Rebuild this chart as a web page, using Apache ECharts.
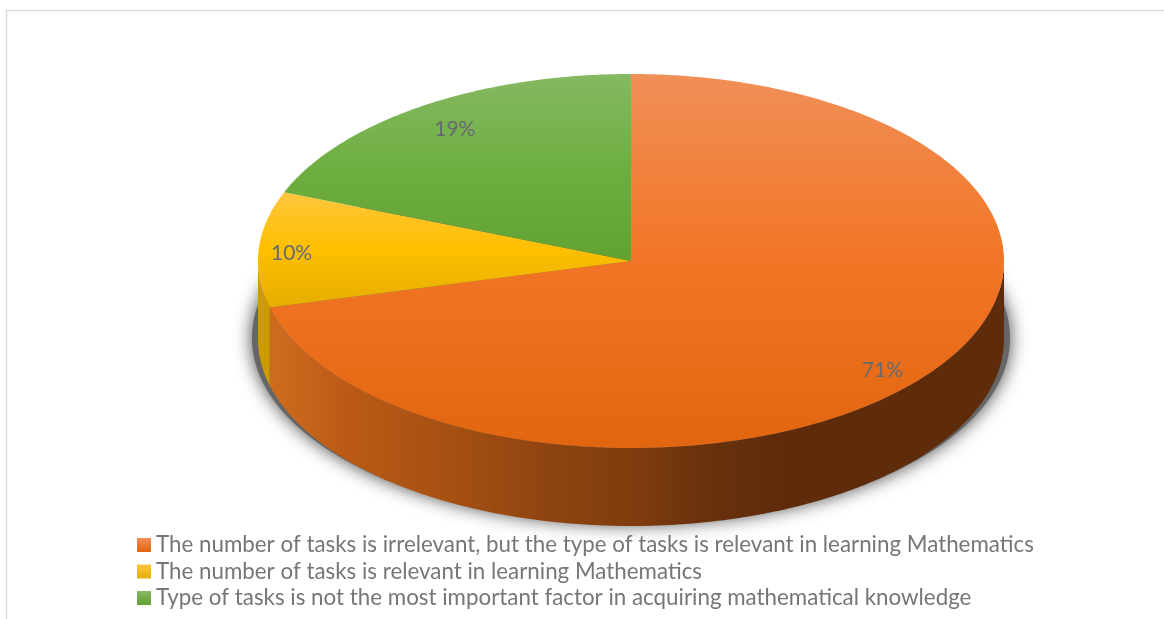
<!DOCTYPE html>
<html>
<head>
<meta charset="utf-8">
<style>html,body{margin:0;padding:0;background:#fff}#main{width:1164px;height:619px}</style>
<script src="https://cdn.jsdelivr.net/npm/echarts@6/dist/echarts.min.js"></script>
</head>
<body>
<div id="main"></div>
<script>
// Survey answers, percent of respondents
const categories = [
  'The number of tasks is irrelevant, but the type of tasks is relevant in learning Mathematics',
  'The number of tasks is relevant in learning Mathematics',
  'Type of tasks is not the most important factor in acquiring mathematical knowledge'
];
const shares = [71, 10, 19];

// Disc geometry in page pixels
const CX = 631, CY = 261, RX = 373, RY = 187, DEPTH = 78;
const TOTAL = shares.reduce((a, b) => a + b, 0);

// Cumulative start angle of each slice, clockwise from 12 o'clock
const startAngles = shares.map((_, i) =>
  shares.slice(0, i).reduce((a, b) => a + b, 0) / TOTAL * 2 * Math.PI);

// Top-surface shades: light rim, base colour, darker near edge
const topShades = [
  ['#F08F58', '#F27627', '#E2650F'],
  ['#FFC540', '#FFC000', '#E5AD00'],
  ['#85B962', '#6FAF42', '#62A231']
];
// Label placement along the radius, with a small pixel nudge for each slice
const labelRadius = [0.85, 0.85, 0.85];
const labelNudge = [[1, 12], [-23, 2], [2, 0]];

const pt = (a, dy) => [CX + RX * Math.sin(a), CY - RY * Math.cos(a) + (dy || 0)];

function arc(a0, a1, dy) {
  const n = Math.max(2, Math.ceil(Math.abs(a1 - a0) / 0.01));
  const out = [];
  for (let i = 0; i <= n; i++) out.push(pt(a0 + (a1 - a0) * i / n, dy));
  return out;
}

function topFill(i) {
  const s = topShades[i];
  return new echarts.graphic.LinearGradient(0, 0, 0, 1, [
    { offset: 0, color: s[0] },
    { offset: 0.48, color: s[1] },
    { offset: 1, color: s[2] }
  ]);
}

const orangeWall = new echarts.graphic.LinearGradient(CX - RX, 0, CX + RX, 0, [
  { offset: 0.03, color: '#CC6A1E' },
  { offset: 0.12, color: '#BB5A16' },
  { offset: 0.26, color: '#A55012' },
  { offset: 0.39, color: '#8E4410' },
  { offset: 0.51, color: '#7F3C0E' },
  { offset: 0.59, color: '#6B320C' },
  { offset: 0.70, color: '#5E2C0B' },
  { offset: 1, color: '#5E2C0B' }
], true);
const wallFills = [orangeWall, '#CB9B00', '#5E8A3A'];

function sliceRenderer(i) {
  return function (params, api) {
    const frac = api.value(0) / TOTAL;
    const a0 = startAngles[i];
    const a1 = a0 + frac * 2 * Math.PI;
    const children = [];

    // Only the front half of the rim faces the viewer
    const w0 = Math.max(a0, Math.PI / 2);
    const w1 = Math.min(a1, Math.PI * 1.5);
    if (w1 > w0) {
      const wall = arc(w0, w1, 0).concat(arc(w1, w0, DEPTH));
      children.push({
        type: 'polygon',
        shape: { points: wall },
        style: { fill: wallFills[i], stroke: null }
      });
    }

    const top = [[CX, CY]].concat(arc(a0, a1, 0));
    children.push({
      type: 'polygon',
      shape: { points: top },
      style: { fill: topFill(i), stroke: null }
    });

    const mid = (a0 + a1) / 2;
    const f = labelRadius[i];
    children.push({
      type: 'text',
      z2: 10,
      style: {
        text: api.value(0) + '%',
        x: CX + RX * f * Math.sin(mid) + labelNudge[i][0],
        y: CY - RY * f * Math.cos(mid) + labelNudge[i][1],
        align: 'center',
        verticalAlign: 'middle',
        fontFamily: 'Lato',
        fontSize: 21,
        fill: '#666B70'
      }
    });
    return { type: 'group', children };
  };
}

// Soft cast shadow peeking out around the rim
const shadowSeries = {
  type: 'custom',
  name: 'rim shadow',
  coordinateSystem: 'none',
  silent: true,
  z: 1,
  data: [[0]],
  renderItem() {
    return {
      type: 'ellipse',
      shape: { cx: CX, cy: CY + 77, rx: 379, ry: 186 },
      style: {
        fill: '#666',
        shadowBlur: 18,
        shadowColor: 'rgba(70,70,70,1)'
      }
    };
  }
};

const sliceSeries = categories.map((name, i) => ({
  type: 'custom',
  name,
  coordinateSystem: 'none',
  silent: true,
  z: 3,
  itemStyle: { color: topShades[i][1] },
  data: [[shares[i]]],
  renderItem: sliceRenderer(i)
}));

const chart = echarts.init(document.getElementById('main'), null, { renderer: 'canvas' });
chart.setOption({
  animation: false,
  backgroundColor: '#fff',
  legend: {
    data: categories.map((name, i) => ({
      name,
      itemStyle: {
        color: new echarts.graphic.LinearGradient(0, 0, 0, 1, [
          { offset: 0, color: topShades[i][0] },
          { offset: 1, color: topShades[i][2] }
        ])
      }
    })),
    orient: 'vertical',
    left: 137,
    top: 532,
    width: 1000,
    height: 120,
    padding: 0,
    icon: 'rect',
    itemWidth: 14,
    itemHeight: 14,
    itemGap: 0.5,
    selectedMode: false,
    textStyle: {
      fontFamily: 'Lato',
      fontSize: 22.35,
      color: '#767676',
      lineHeight: 26
    }
  },
  graphic: [
    // Thin chart-area frame along the top and left
    { type: 'polyline', silent: true,
      shape: { points: [[6.5, 619], [6.5, 10.5], [1164, 10.5]] },
      style: { stroke: '#DCDCDC', lineWidth: 1.5, fill: null } }
  ],
  series: [shadowSeries].concat(sliceSeries)
});
</script>
</body>
</html>
